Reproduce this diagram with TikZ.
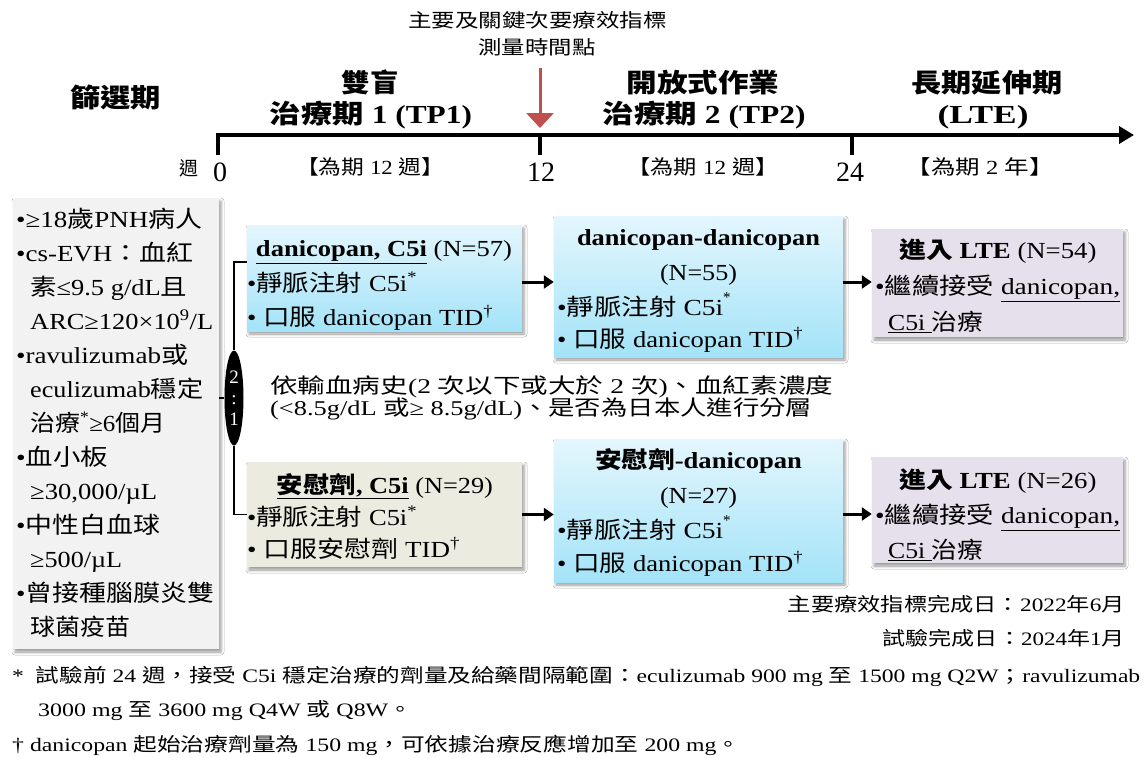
\documentclass[tikz,border=0pt]{standalone}
\usepackage{fontspec}
\usepackage{graphicx}
\usetikzlibrary{arrows.meta,shapes.geometric,shadows.blur}
\setmainfont{Liberation Serif}
\newfontfamily\cjk{Noto Sans CJK TC}
\XeTeXinterchartokenstate=1
\newXeTeXintercharclass\CJKcls
\newcount\cjkc
\cjkc="3000\relax
\loop\XeTeXcharclass\cjkc=\CJKcls\advance\cjkc by 1\relax\ifnum\cjkc<"3040\repeat
\cjkc="4E00\relax
\loop\XeTeXcharclass\cjkc=\CJKcls\advance\cjkc by 1\relax\ifnum\cjkc<"A000\repeat
\cjkc="FF00\relax
\loop\XeTeXcharclass\cjkc=\CJKcls\advance\cjkc by 1\relax\ifnum\cjkc<"FFF0\repeat
\XeTeXinterchartoks 0 \CJKcls = {\cjk}
\XeTeXinterchartoks 4095 \CJKcls = {\cjk}
\XeTeXinterchartoks \CJKcls 0 = {\rmfamily}
\XeTeXinterchartoks \CJKcls 4095 = {\rmfamily}
\newcommand\fitw[2]{\resizebox{#1pt}{\height}{#2}}
\newcommand\fz[1]{\fontsize{#1}{#1}\selectfont}
\newcommand\hstar{\rlap{\raisebox{13pt}{\fz{15}*}}}
\definecolor{lgray}{HTML}{F2F2F2}
\definecolor{btop}{HTML}{E4F6FD}
\definecolor{bbot}{HTML}{A3E3F8}
\definecolor{beige}{HTML}{EBECDF}
\definecolor{lav}{HTML}{E5E0EC}
\definecolor{redarr}{HTML}{C0504D}
\tikzset{
  tx/.style={inner sep=0pt, text height=17pt, text depth=0pt, font=\fz{23}},
  tl/.style={tx, anchor=west},
  tc/.style={tx, anchor=center},
  tr/.style={tx, anchor=east},
  hb/.style={inner sep=0pt, text height=20pt, text depth=0pt, font=\fz{26}\bfseries, anchor=center},
  sm/.style={inner sep=0pt, text height=14pt, text depth=0pt, font=\fz{19}},
  num/.style={inner sep=0pt, text height=19pt, text depth=0pt, font=\fz{28}, anchor=center},
  shd/.style={blur shadow={shadow xshift=2pt, shadow yshift=-3pt, shadow blur radius=3pt, shadow opacity=40}},
  boxbase/.style={inner sep=0pt, draw=none, shd},
  bluebox/.style={boxbase, top color=btop, bottom color=bbot},
  beigebox/.style={boxbase, fill=beige},
  lavbox/.style={boxbase, fill=lav},
  graybox/.style={boxbase, fill=lgray},
  arr/.style={line width=3pt, -{Triangle[length=10pt,width=13pt]}},
  conn/.style={line width=1.3pt},
  axis/.style={line width=3.8pt},
}
\begin{document}
\begin{tikzpicture}[x=1pt,y=-1pt]
\useasboundingbox (0,0) rectangle (1144,758);
\fill[white] (0,0) rectangle (1144,758);

% ---- boxes
\node[graybox, minimum width=206pt, minimum height=451pt] (scr) at (116,423.5) {};
\node[bluebox, minimum width=275pt, minimum height=106pt] (a1) at (384.5,278) {};
\node[beigebox, minimum width=275pt, minimum height=105pt] (b1) at (384.5,514.5) {};
\node[bluebox, minimum width=289pt, minimum height=141pt] (a2) at (698.5,286.5) {};
\node[bluebox, minimum width=289pt, minimum height=143pt] (b2) at (698.5,510.5) {};
\node[lavbox, minimum width=251pt, minimum height=108pt] (a3) at (997.5,283) {};
\node[lavbox, minimum width=251pt, minimum height=106pt] (b3) at (997.5,510) {};

% ---- header texts
\node[hb] (h0) at (115.5,97) {\fitw{91}{篩選期}};
\node[hb] (h1a) at (370,82) {\fitw{57}{雙盲}};
\node[hb] (h1b) at (371,113) {\fitw{202}{治療期 1 (TP1)}};
\node[hb] (h2a) at (703,82) {\fitw{153}{開放式作業}};
\node[hb] (h2b) at (704,113) {\fitw{203}{治療期 2 (TP2)}};
\node[hb] (h3a) at (987,82) {\fitw{151}{長期延伸期}};
\node[hb] (h3b) at (983,113) {\fitw{91}{(LTE)}};

\node[sm, anchor=center] (n1) at (537.5,20) {\fitw{259}{主要及關鍵次要療效指標}};
\node[sm, anchor=center] (n2) at (537,47) {\fitw{117}{測量時間點}};

% ---- timeline
\coordinate (t0) at (218,135);
\coordinate (t0b) at (218,155);
\coordinate (t12) at (540,135);
\coordinate (t12b) at (540,155);
\coordinate (t24) at (852,135);
\coordinate (t24b) at (852,155);
\coordinate (tend) at (1134,135);
\draw[axis, -{Triangle[length=15pt,width=17pt]}] (t0b) -- (t0) -- (tend);
\draw[axis] (t12) -- (t12b);
\draw[axis] (t24) -- (t24b);
\coordinate (ra) at (540,68);
\coordinate (rb) at (540,128);
\draw[redarr, line width=3pt, -{Triangle[length=15pt,width=27pt]}] (ra) -- (rb);

\node[sm, anchor=center] (wk) at (189,168) {\fitw{19}{週}};
\node[num] (w0) at (220,172) {0};
\node[num] (w12) at (541,172) {12};
\node[num] (w24) at (850,172) {24};
\node[sm, anchor=center, font=\fz{20}] (p1) at (370,167) {\fitw{148}{【為期 12 週】}};
\node[sm, anchor=center, font=\fz{20}] (p2) at (703,167) {\fitw{151}{【為期 12 週】}};
\node[sm, anchor=center, font=\fz{20}] (p3) at (980,167) {\fitw{147}{【為期 2 年】}};

% ---- screening criteria
\node[tl] (s1) at (16,219) {\fitw{186}{•≥18歲PNH病人}};
\node[tl] (s2) at (16,253) {\fitw{177}{•cs-EVH：血紅}};
\node[tl] (s3) at (30,287) {\fitw{157}{素≤9.5 g/dL且}};
\node[tl] (s4) at (30,321) {\fitw{183}{ARC≥120×10\textsuperscript{9}/L}};
\node[tl] (s5) at (16,355) {\fitw{172}{•ravulizumab或}};
\node[tl] (s6) at (30,389) {\fitw{173}{eculizumab穩定}};
\node[tl] (s7) at (30,423) {\fitw{135}{治療\textsuperscript{*}≥6個月}};
\node[tl] (s8) at (16,457) {\fitw{92}{•血小板}};
\node[tl] (s9) at (30,491) {\fitw{127}{≥30,000/µL}};
\node[tl] (s10) at (16,525) {\fitw{144}{•中性白血球}};
\node[tl] (s11) at (30,559) {\fitw{92}{≥500/µL}};
\node[tl] (s12) at (16,593) {\fitw{198}{•曾接種腦膜炎雙}};
\node[tl] (s13) at (30,627) {\fitw{100}{球菌疫苗}};

% ---- randomisation
\node[ellipse, fill=black, inner sep=0pt, minimum width=19pt, minimum height=95pt,
      text=white, align=center, font=\fontsize{19}{21}\selectfont] (rnd) at (234,398) {2\\:\\1};
\draw[conn] (scr.east |- rnd.center) -- (rnd.west);
\draw[conn] ([yshift=16pt]a1.west) -| (rnd.north);
\draw[conn] (rnd.south) |- (b1.west);

% ---- TP1 boxes
\node[tc] (a1t) at (384,248) {\fitw{256}{{\bfseries\underline{danicopan, C5i}} (N=57)}};
\node[tl] (a1u) at (247,283) {\fitw{170}{•靜脈注射 C5i\textsuperscript{*}}};
\node[tl] (a1v) at (247,317) {\fitw{246}{• 口服 danicopan TID\textsuperscript{†}}};

\node[tc] (b1t) at (385,485) {\fitw{216}{{\bfseries\underline{安慰劑, C5i}} (N=29)}};
\node[tl] (b1u) at (247,517) {\fitw{170}{•靜脈注射 C5i\textsuperscript{*}}};
\node[tl] (b1v) at (247,549) {\fitw{213}{• 口服安慰劑 TID\textsuperscript{†}}};

% ---- TP2 boxes
\node[tc] (a2t) at (698.5,237) {\fitw{243}{\bfseries danicopan-danicopan}};
\node[tc] (a2n) at (698.5,272) {\fitw{77}{(N=55)}};
\node[tl] (a2u) at (557,307) {\fitw{166}{•靜脈注射 C5i}\hstar};
\node[tl] (a2v) at (557,339) {\fitw{246}{• 口服 danicopan TID\textsuperscript{†}}};

\node[tc] (b2t) at (698.5,460) {\fitw{207}{\bfseries 安慰劑-danicopan}};
\node[tc] (b2n) at (698.5,495) {\fitw{77}{(N=27)}};
\node[tl] (b2u) at (557,530) {\fitw{166}{•靜脈注射 C5i}\hstar};
\node[tl] (b2v) at (557,563) {\fitw{246}{• 口服 danicopan TID\textsuperscript{†}}};

% ---- LTE boxes
\node[tc] (a3t) at (998,250) {\fitw{197}{{\bfseries 進入 LTE} (N=54)}};
\node[tl] (a3u) at (875,286) {\fitw{245}{•繼續接受 \underline{danicopan,}}};
\node[tl] (a3v) at (888,322) {\fitw{95}{\underline{C5i\ }治療}};

\node[tc] (b3t) at (998,480) {\fitw{197}{{\bfseries 進入 LTE} (N=26)}};
\node[tl] (b3u) at (875,515) {\fitw{245}{•繼續接受 \underline{danicopan,}}};
\node[tl] (b3v) at (888,550) {\fitw{95}{\underline{C5i\ }治療}};

% ---- arrows between boxes
\draw[arr] ([yshift=-4pt]a1.east) -- ([yshift=-4pt]a1.east -| a2.west);
\draw[arr] ([yshift=1pt]a3.west -| a2.east) -- ([yshift=1pt]a3.west);
\draw[arr] (b1.east) -- (b1.east -| b2.west);
\draw[arr] ([yshift=-4pt]b3.west -| b2.east) -- ([yshift=-4pt]b3.west);

% ---- stratification
\node[tl, font=\fz{21}, text height=15pt] (st1) at (270,386) {\fitw{563}{依輸血病史(2 次以下或大於 2 次)、血紅素濃度}};
\node[tl, font=\fz{21}, text height=15pt] (st2) at (270,408) {\fitw{542}{(<8.5g/dL 或≥ 8.5g/dL)、是否為日本人進行分層}};

% ---- dates
\node[sm, anchor=east] (d1) at (1125,604) {\fitw{337}{主要療效指標完成日：2022年6月}};
\node[sm, anchor=east] (d2) at (1125,638) {\fitw{242}{試驗完成日：2024年1月}};

% ---- footnotes
\node[sm, anchor=west] (f1) at (12,675) {\fitw{1128}{*\ \ 試驗前 24 週，接受 C5i 穩定治療的劑量及給藥間隔範圍：eculizumab 900 mg 至 1500 mg Q2W；ravulizumab}};
\node[sm, anchor=west] (f2) at (38,709) {\fitw{374}{3000 mg 至 3600 mg Q4W 或 Q8W。}};
\node[sm, anchor=west] (f3) at (12,744) {\fitw{728}{† danicopan 起始治療劑量為 150 mg，可依據治療反應增加至 200 mg。}};
\end{tikzpicture}
\end{document}
